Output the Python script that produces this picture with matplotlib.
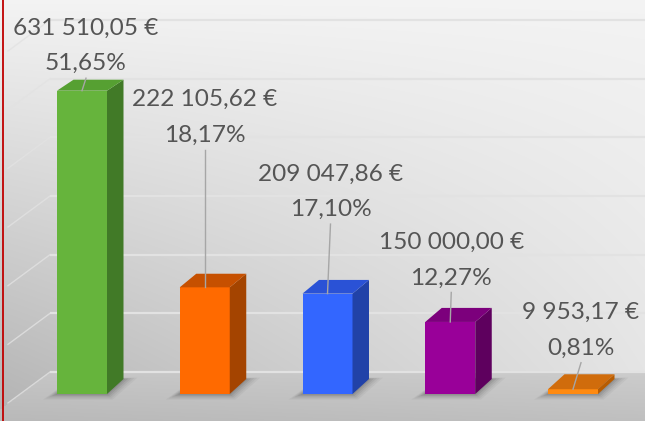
import numpy as np
import matplotlib
matplotlib.use("Agg")
import matplotlib.pyplot as plt
from matplotlib.patches import Polygon

# ---------------- data ----------------
values = [631510.05, 222105.62, 209047.86, 150000.00, 9953.17]
front_colors = ["#66b43c", "#ff6a00", "#3366ff", "#990099", "#ff8a10"]
side_colors = ["#417a27", "#a44400", "#2142a8", "#5e005e", "#b85c00"]
top_colors = ["#56a032", "#c65000", "#2a52d6", "#7c007c", "#d06c0c"]
wall_ticks = [0, 100000, 200000, 300000, 400000, 500000, 600000]

total = sum(values)


def euro(v):
    return f"{v:,.2f}".replace(",", " ").replace(".", ",") + " €"


def pct(v):
    return f"{100 * v / total:.2f}".replace(".", ",") + "%"


# ---------------- layout (pixels) ----------------
W, H = 645, 421
BAR_PX = 50
SPACING_PX = 122.75
FIRST_CENTER_PX = 82
ZERO_PX = 394          # front baseline, from top
PX_PER_EUR = 303.3 / 631510.05
DX_PX = 16.5
label_rise_px = [56, 181, 113, 73, 70]   # baseline of 1st line above bar top
label_shift_px = [4, 0, 3, 1, 8]
LINE_GAP_PX = 35.5

fig = plt.figure(figsize=(W / 100, H / 100), dpi=100)

# ---------------- background ----------------
bg = fig.add_axes([0, 0, 1, 1])
yy, xx = np.mgrid[0:H, 0:W].astype(float)
wall = 0.955 - 0.19 * np.clip(yy / 372, 0, 1.2) * (0.3 + 0.9 * (1 - xx / W))
floor = 0.80 - 0.05 * np.clip((yy - 372) / 49, 0, 1) - 0.025 * (1 - xx / W)
boundary = 372 + np.clip(50 - xx, 0, None) * 31 / 42
img = np.where(yy > boundary, floor, wall)
rgb = np.dstack([img, img, img])
bg.imshow(rgb, extent=(0, W, H, 0), aspect="auto", interpolation="bilinear")
bg.set_xlim(0, W)
bg.set_ylim(H, 0)
bg.axis("off")
bg.plot([2.5, 2.5], [0, H], color="#c00000", lw=1.3)

# ---------------- back wall gridlines ----------------
wall_ax = fig.add_axes([0, 0, 1, 1], facecolor="none")
w_scale = 352 / 600000          # px per wall unit
w_bottom = -(H - 372) / w_scale
w_top = 372 / w_scale
wall_ax.set_xlim(0, W)
wall_ax.set_ylim(w_bottom, w_top)
wall_ax.axis("off")
diag_units = 31 / w_scale
for t in wall_ticks:
    wall_ax.plot([50, W], [t, t], color="#e2e2e2", lw=1.6, solid_capstyle="butt")
    wall_ax.plot([8, 50], [t - diag_units, t], color="#e2e2e2", lw=1.0, alpha=0.8)

# ---------------- bars ----------------
ax = fig.add_axes([0, 0, 1, 1], facecolor="none")
x0 = -FIRST_CENTER_PX / SPACING_PX
ax.set_xlim(x0, x0 + W / SPACING_PX)
ylo = -(H - ZERO_PX) / PX_PER_EUR
ax.set_ylim(ylo, ylo + H / PX_PER_EUR)
ax.axis("off")

ux = 1 / SPACING_PX          # data x per px
uy = 1 / PX_PER_EUR          # data y per px
width = BAR_PX * ux
dx = DX_PX * ux
xs = np.arange(len(values))

# shadows
for i, v in enumerate(values):
    l, r = xs[i] - width / 2, xs[i] + width / 2
    dyb = 15 * uy
    for e, a in [(14, 0.05), (11, 0.06), (8, 0.08), (5, 0.10), (2, 0.12)]:
        pts = [(l - e * ux, -e * 0.4 * uy), (r + e * 0.4 * ux, -e * 0.4 * uy),
               (r + dx + e * ux, dyb + e * 0.1 * uy), (l + dx, dyb + e * 0.1 * uy)]
        ax.add_patch(Polygon(pts, closed=True, facecolor="#303030", edgecolor="none",
                             alpha=a, zorder=1))

bars = ax.bar(xs, values, width=width, color=front_colors, zorder=3, linewidth=0)

for i, v in enumerate(values):
    l, r = xs[i] - width / 2, xs[i] + width / 2
    dy_top = (15 - 4 * v / max(values)) * uy
    dy_bot = 15 * uy
    side = [(r, 0), (r + dx, dy_bot), (r + dx, v + dy_top), (r, v)]
    top = [(l, v), (l + dx, v + dy_top), (r + dx, v + dy_top), (r, v)]
    ax.add_patch(Polygon(side, closed=True, facecolor=side_colors[i], edgecolor="none", zorder=3))
    ax.add_patch(Polygon(top, closed=True, facecolor=top_colors[i], edgecolor="none", zorder=4))

# ---------------- labels ----------------
for i, v in enumerate(values):
    lx = xs[i] + label_shift_px[i] * ux
    b1 = v + label_rise_px[i] * uy
    b2 = b1 - LINE_GAP_PX * uy
    kw = dict(ha="center", va="baseline", color="#555555", fontsize=17.6,
              family=["Lato", "DejaVu Sans"], zorder=6)
    ax.text(lx, b1, euro(v), **kw)
    ax.text(lx, b2, pct(v), **kw)
    ax.plot([lx, xs[i]], [b2 - 8 * uy, v], color="#a6a6a6", lw=1.0, zorder=5)

fig.savefig("out.png", dpi=100)
